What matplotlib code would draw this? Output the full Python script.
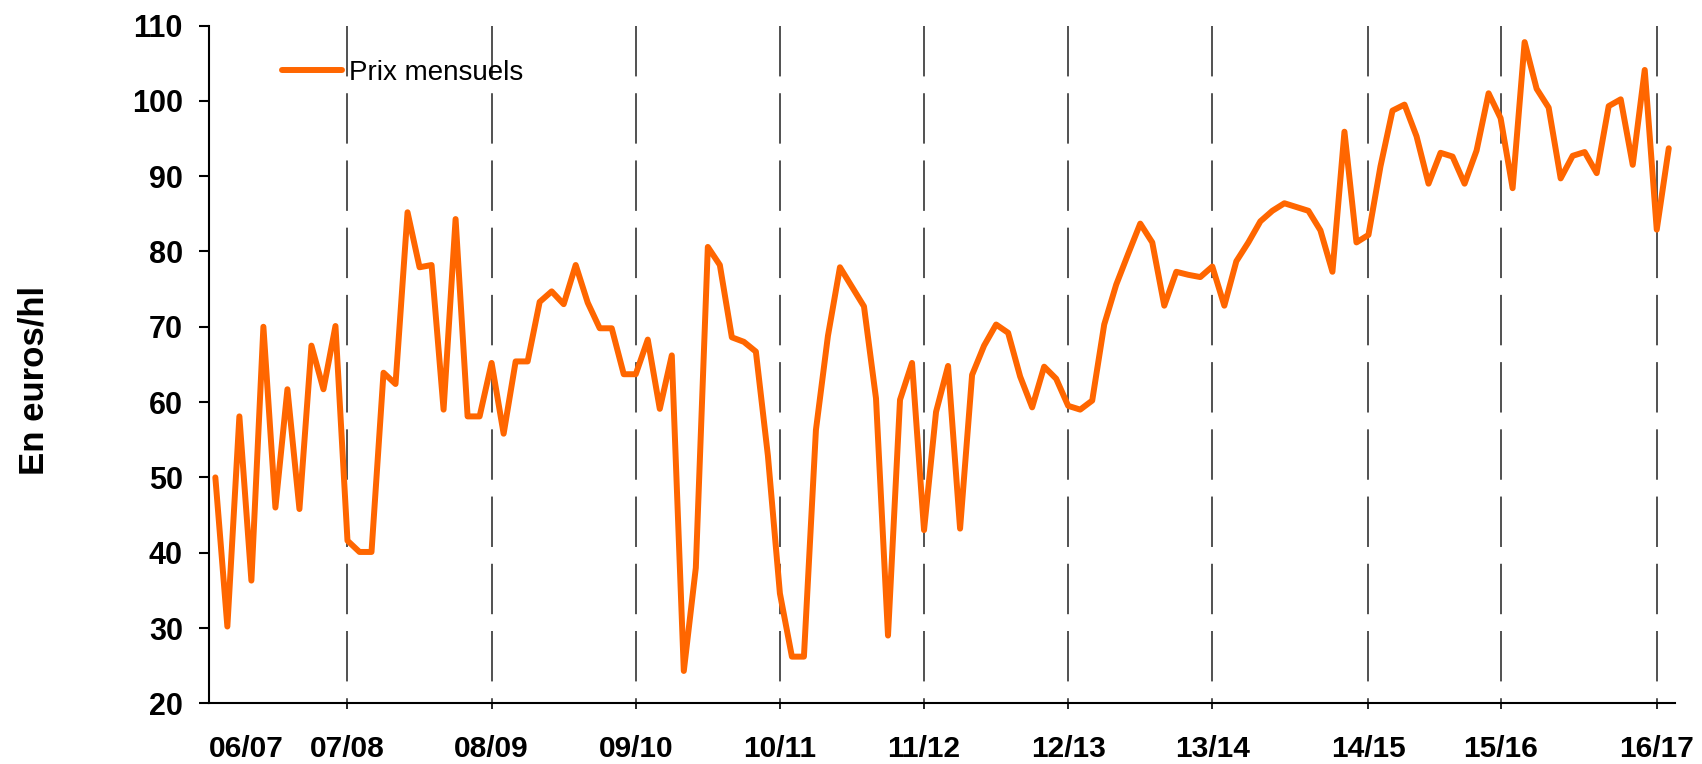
import matplotlib
matplotlib.use("Agg")
import matplotlib.pyplot as plt
from matplotlib import font_manager

# monthly prices, euros/hl
prices = [
    50.0, 30.2, 58.1, 36.3, 70.0, 46.0, 61.7, 45.8, 67.5, 61.7, 70.1,
    41.6, 40.1, 40.1, 63.9, 62.4, 85.2, 77.9, 78.2, 59.0, 84.3, 58.1, 58.1,
    65.2, 55.8, 65.4, 65.4, 73.3, 74.7, 73.0, 78.2, 73.2, 69.8, 69.8, 63.7,
    63.7, 68.3, 59.1, 66.2, 24.3, 38.0, 80.6, 78.2, 68.6, 68.0, 66.7, 52.9,
    34.6, 26.2, 26.2, 56.3, 68.8, 77.9, 75.3, 72.7, 60.5, 29.0, 60.3, 65.2,
    43.0, 58.7, 64.8, 43.2, 63.6, 67.5, 70.3, 69.2, 63.4, 59.3, 64.7, 63.1,
    59.5, 59.0, 60.2, 70.3, 75.6, 79.7, 83.7, 81.2, 72.8, 77.3, 76.9, 76.6,
    78.0, 72.8, 78.7, 81.2, 84.0, 85.4, 86.4, 85.9, 85.4, 82.8, 77.3, 95.9, 81.2,
    82.2, 91.3, 98.7, 99.5, 95.3, 89.0, 93.1, 92.6, 89.0, 93.4, 101.0,
    97.7, 88.4, 107.8, 101.6, 99.1, 89.7, 92.7, 93.2, 90.4, 99.3, 100.2, 91.5, 104.1,
    82.9, 93.7,
]
season_labels = ["06/07", "07/08", "08/09", "09/10", "10/11", "11/12",
                 "12/13", "13/14", "14/15", "15/16", "16/17"]
# month index where each season starts (first one is the axis start)
season_pos = [-0.5, 11, 23, 35, 47, 59, 71, 83, 96, 107, 120]

plt.rcParams['font.family'] = ['Liberation Sans', 'DejaVu Sans']

# the y label in the original is tall and narrow
installed = {f.name for f in font_manager.fontManager.ttflist}
if 'Liberation Sans Narrow' in installed:
    ylab_family, ylab_size = ['Liberation Sans Narrow', 'DejaVu Sans'], 29
else:
    ylab_family, ylab_size = ['Liberation Sans', 'DejaVu Sans'], 25

fig = plt.figure(figsize=(17.02, 7.64), dpi=100)
ax = fig.add_axes([0.123, 0.0794, 0.861, 0.8872])

months = list(range(len(prices)))

# season separators
for p in season_pos[1:]:
    ax.plot([p, p], [110, 20], color='#222222', lw=1.1, dashes=(33, 11), zorder=1)

ax.plot(months, prices, color='#FF6600', lw=4.3, solid_joinstyle='round',
        solid_capstyle='round', label='Prix mensuels', zorder=3)

ax.set_xlim(-0.5, 121.5)
ax.set_ylim(20, 110)
ax.set_yticks(range(20, 111, 10))
ax.set_xticks(season_pos)
ax.set_xticklabels(season_labels)

for s in ['top', 'right']:
    ax.spines[s].set_visible(False)
for s in ['left', 'bottom']:
    ax.spines[s].set_linewidth(1.5)

ax.tick_params(axis='y', direction='out', length=7, width=1.5, pad=12,
               labelsize=22)
ax.tick_params(axis='x', direction='out', length=4, width=1.2, pad=19,
               labelsize=21.5)
for lab in ax.get_xticklabels() + ax.get_yticklabels():
    lab.set_fontweight('bold')

first = ax.xaxis.get_major_ticks()[0]
first.tick1line.set_visible(False)
first.label1.set_horizontalalignment('left')

fig.text(34.5 / 1702, 1 - 380 / 764, 'En euros/hl', rotation=90,
         ha='center', va='center', fontsize=ylab_size, fontweight='bold',
         family=ylab_family)

leg = ax.legend(loc='center left', bbox_to_anchor=(282 / 1702, 1 - 73 / 764),
                bbox_transform=fig.transFigure, frameon=False, fontsize=20,
                handlelength=2.15, handletextpad=0.27, borderpad=0,
                borderaxespad=0)
leg.get_lines()[0].set_solid_capstyle('round')

fig.savefig('out.png', dpi=100)
